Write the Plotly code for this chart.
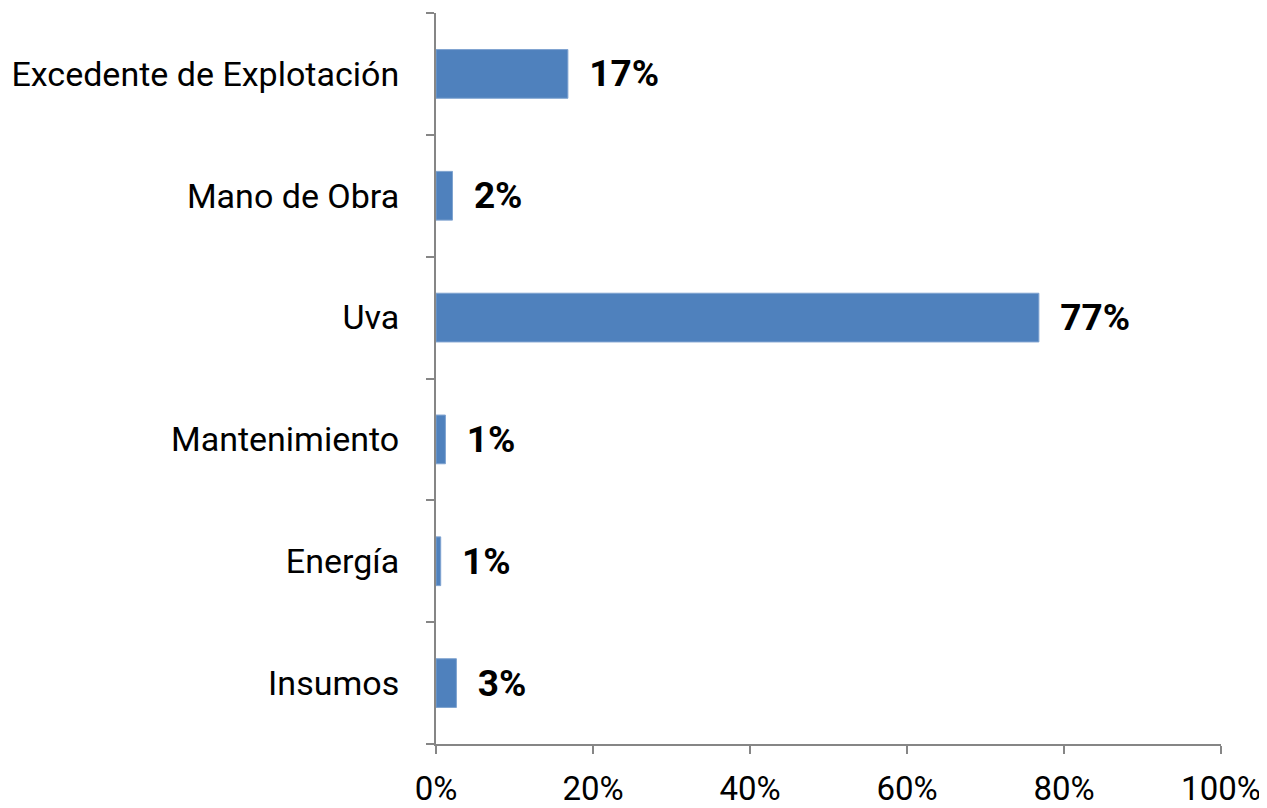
"""Horizontal bar chart: cost structure shares."""

import plotly.graph_objects as go

categories = ["Insumos", "Energía", "Mantenimiento", "Uva", "Mano de Obra", "Excedente de Explotación"]
shares = [0.026, 0.006, 0.012, 0.768, 0.021, 0.168]
x_ticks = [0, 0.2, 0.4, 0.6, 0.8, 1.0]
x_tick_labels = ["0%", "20%", "40%", "60%", "80%", "100%"]

BAR_COLOR = "#4F81BD"
AXIS_COLOR = "#868686"
FONT = "Roboto, 'Open Sans', sans-serif"

fig = go.Figure(
    go.Bar(
        x=shares,
        y=categories,
        orientation="h",
        marker=dict(color=BAR_COLOR, line=dict(color="#7FA3D0", width=1)),
        texttemplate="\u00a0\u00a0%{x:.0%}",
        textposition="outside",
        textfont=dict(family=FONT, size=37, color="black", weight="bold"),
        cliponaxis=False,
        width=0.4,
    )
)

# the page body adds an 8px offset, so margins are trimmed to land the axes in place
fig.update_layout(
    width=1267,
    height=808,
    paper_bgcolor="white",
    plot_bgcolor="white",
    font=dict(family=FONT, size=34, color="black"),
    margin=dict(l=428, r=54, t=5, b=72),
    showlegend=False,
)
fig.update_xaxes(
    range=[0, 1],
    tickvals=x_ticks,
    ticktext=x_tick_labels,
    showgrid=False,
    zeroline=False,
    showline=True,
    linecolor=AXIS_COLOR,
    linewidth=2,
    ticks="outside",
    ticklen=8,
    tickwidth=2,
    tickcolor=AXIS_COLOR,
    ticklabelstandoff=6,
    tickfont=dict(size=33),
    automargin=False,
)
fig.update_yaxes(
    categoryorder="array",
    categoryarray=categories,
    showgrid=False,
    showline=True,
    linecolor=AXIS_COLOR,
    linewidth=2,
    ticks="outside",
    tickson="boundaries",
    ticklen=8,
    tickwidth=2,
    tickcolor=AXIS_COLOR,
    ticklabelstandoff=28,
    automargin=False,
)

fig.write_html("out.html")
